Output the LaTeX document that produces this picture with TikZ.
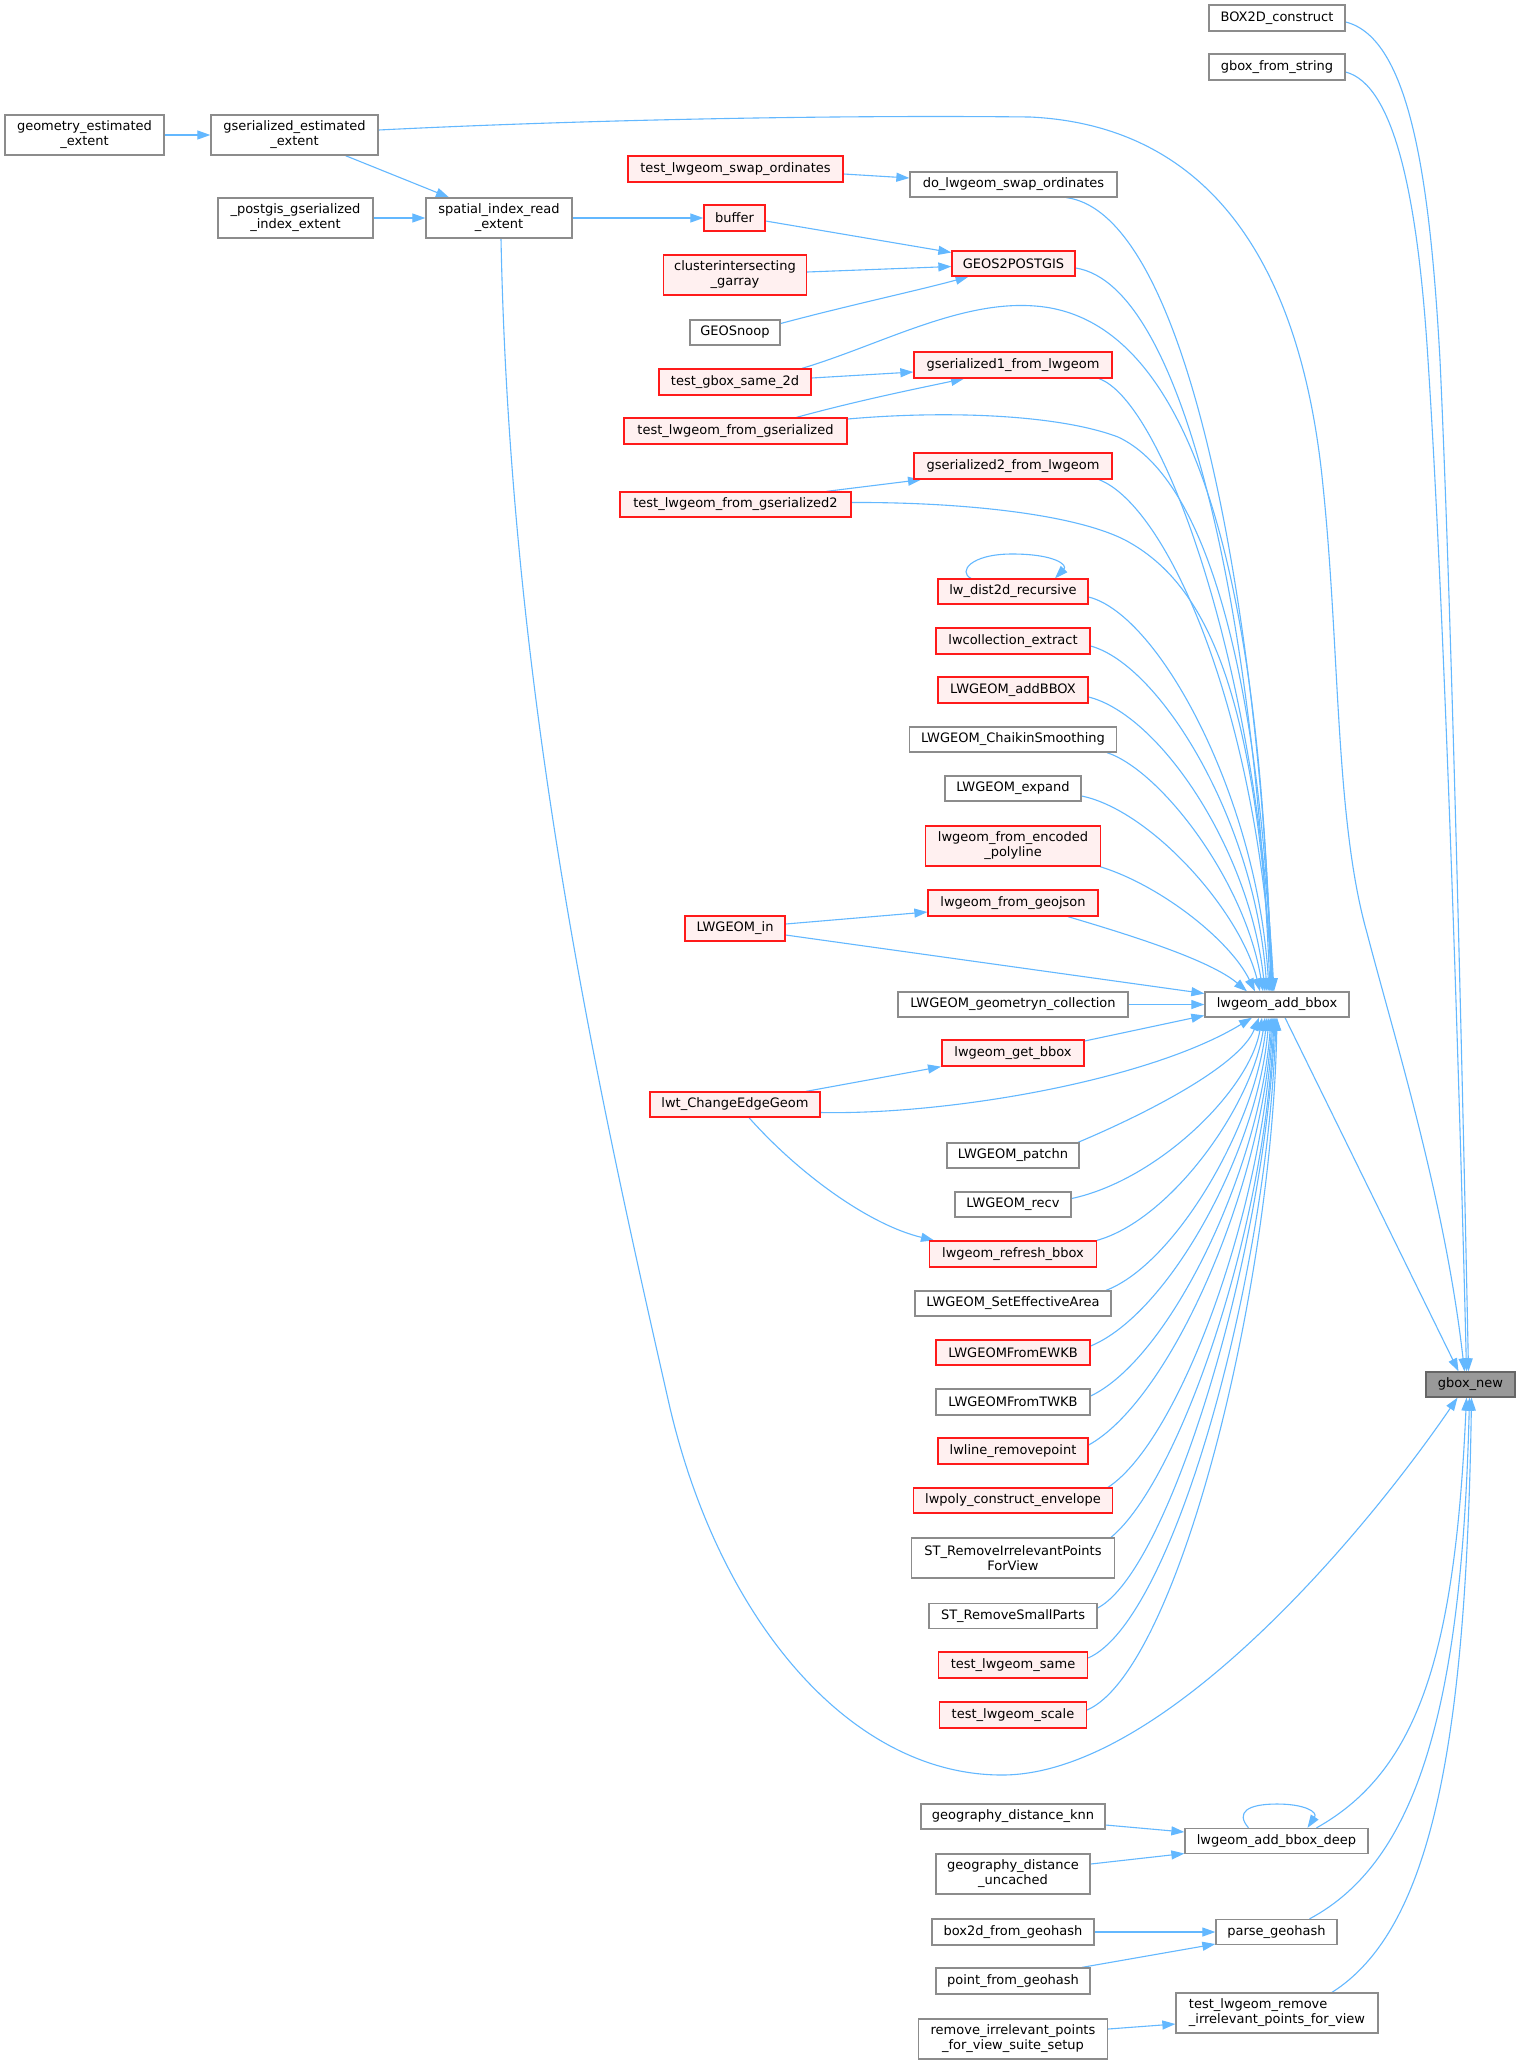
\documentclass[tikz,border=0pt]{standalone}
\usepackage{fontspec}
\setmainfont{DejaVu Sans}
\usetikzlibrary{arrows.meta,backgrounds}
\definecolor{edgec}{HTML}{63B8FF}
\definecolor{nodeb}{HTML}{8C8C8C}
\definecolor{nodedark}{HTML}{666666}
\definecolor{nodered}{HTML}{FF1A1A}
\definecolor{nodefill}{HTML}{FFF0F0}
\definecolor{gboxfill}{HTML}{999999}
\tikzset{
  nb/.style={draw=nodeb, fill=white, line width=1.3pt, inner sep=0pt, align=center, font=\fontsize{13}{15}\selectfont},
  nr/.style={nb, draw=nodered, fill=nodefill},
  ngb/.style={nb, draw=nodedark, fill=gboxfill},
  ed/.style={draw=edgec, line width=1.1pt, -{Triangle[length=13pt,width=9pt]}},
}
\begin{document}
\begin{tikzpicture}[x=1pt,y=-1pt]
\useasboundingbox (0,0) rectangle (1520,2062);
% column 1-4
\node[nb, minimum width=159pt, minimum height=40pt] (geomest) at (84.5,135) {geometry\_estimated\\\_extent};
\node[nb, minimum width=167pt, minimum height=40pt] (gse) at (294.5,135) {gserialized\_estimated\\\_extent};
\node[nb, minimum width=155pt, minimum height=40pt] (pgie) at (295.5,218) {\_postgis\_gserialized\\\_index\_extent};
\node[nb, minimum width=146pt, minimum height=40pt] (sire) at (499,218) {spatial\_index\_read\\\_extent};
\node[nr, minimum width=215pt, minimum height=26pt] (tlso) at (735.5,169) {test\_lwgeom\_swap\_ordinates};
\node[nr, minimum width=61pt, minimum height=26pt] (buf) at (734.5,218) {buffer};
\node[nr, minimum width=143pt, minimum height=40pt] (cig) at (735,275) {clusterintersecting\\\_garray};
\node[nb, minimum width=90pt, minimum height=25pt] (gsn) at (735,332.5) {GEOSnoop};
\node[nr, minimum width=152pt, minimum height=26pt] (tgs) at (735,382) {test\_gbox\_same\_2d};
\node[nr, minimum width=223pt, minimum height=26pt] (tlfg) at (735.5,431) {test\_lwgeom\_from\_gserialized};
\node[nr, minimum width=231pt, minimum height=25pt] (tlfgb) at (735.5,504.5) {test\_lwgeom\_from\_gserialized2};
\node[nr, minimum width=100pt, minimum height=25pt] (lwin) at (735,928.5) {LWGEOM\_in};
\node[nr, minimum width=170pt, minimum height=25pt] (lced) at (735,1104.5) {lwt\_ChangeEdgeGeom};
% column 5
\node[nb, minimum width=207pt, minimum height=25pt] (dlso) at (1013.5,184.5) {do\_lwgeom\_swap\_ordinates};
\node[nr, minimum width=123pt, minimum height=25pt] (gtp) at (1013.5,263.5) {GEOS2POSTGIS};
\node[nr, minimum width=198pt, minimum height=26pt] (gsa) at (1013,365) {gserialized1\_from\_lwgeom};
\node[nr, minimum width=198pt, minimum height=26pt] (gsb) at (1013,466) {gserialized2\_from\_lwgeom};
\node[nr, minimum width=150pt, minimum height=25pt] (ldr) at (1013,591.5) {lw\_dist2d\_recursive};
\node[nr, minimum width=154pt, minimum height=26pt] (lce) at (1013,641) {lwcollection\_extract};
\node[nr, minimum width=150pt, minimum height=26pt] (labb) at (1013,690) {LWGEOM\_addBBOX};
\node[nb, minimum width=207pt, minimum height=25pt] (lcs) at (1013,739.5) {LWGEOM\_ChaikinSmoothing};
\node[nb, minimum width=136pt, minimum height=25pt] (lex) at (1013,788.5) {LWGEOM\_expand};
\node[nr, minimum width=175pt, minimum height=40pt] (lfep) at (1013,846) {lwgeom\_from\_encoded\\\_polyline};
\node[nr, minimum width=170pt, minimum height=26pt] (lfgj) at (1013,903) {lwgeom\_from\_geojson};
\node[nb, minimum width=230pt, minimum height=25pt] (lgc) at (1013,1004.5) {LWGEOM\_geometryn\_collection};
\node[nr, minimum width=142pt, minimum height=26pt] (lgb) at (1013,1053) {lwgeom\_get\_bbox};
\node[nb, minimum width=132pt, minimum height=25pt] (lpn) at (1013,1155.5) {LWGEOM\_patchn};
\node[nb, minimum width=116pt, minimum height=25pt] (lrv) at (1013,1204.5) {LWGEOM\_recv};
\node[nr, minimum width=167pt, minimum height=26pt] (lrb) at (1013,1254) {lwgeom\_refresh\_bbox};
\node[nb, minimum width=196pt, minimum height=25pt] (lsea) at (1013,1303.5) {LWGEOM\_SetEffectiveArea};
\node[nr, minimum width=154pt, minimum height=25pt] (lfe) at (1013,1352.5) {LWGEOMFromEWKB};
\node[nb, minimum width=154pt, minimum height=26pt] (lft) at (1013,1402) {LWGEOMFromTWKB};
\node[nr, minimum width=150pt, minimum height=26pt] (lrp) at (1013,1451) {lwline\_removepoint};
\node[nr, minimum width=199pt, minimum height=25pt] (lpce) at (1013,1500.5) {lwpoly\_construct\_envelope};
\node[nb, minimum width=203pt, minimum height=40pt] (strip) at (1013,1558) {ST\_RemoveIrrelevantPoints\\ForView};
\node[nb, minimum width=168pt, minimum height=25pt] (stsp) at (1013,1616) {ST\_RemoveSmallParts};
\node[nr, minimum width=149pt, minimum height=26pt] (tls) at (1013,1665) {test\_lwgeom\_same};
\node[nr, minimum width=147pt, minimum height=26pt] (tlsc) at (1013,1715) {test\_lwgeom\_scale};
\node[nb, minimum width=184pt, minimum height=25pt] (gdk) at (1013,1816.5) {geography\_distance\_knn};
\node[nb, minimum width=154pt, minimum height=40pt] (gdu) at (1013,1874) {geography\_distance\\\_uncached};
\node[nb, minimum width=162pt, minimum height=26pt] (bfg) at (1013,1932) {box2d\_from\_geohash};
\node[nb, minimum width=154pt, minimum height=26pt] (pfg) at (1013,1981) {point\_from\_geohash};
\node[nb, minimum width=189pt, minimum height=40pt] (rips) at (1013,2039) {remove\_irrelevant\_points\\\_for\_view\_suite\_setup};
% column 6-7
\node[nb, minimum width=136pt, minimum height=26pt] (bc) at (1277,18) {BOX2D\_construct};
\node[nb, minimum width=136pt, minimum height=26pt] (gfs) at (1277,67) {gbox\_from\_string};
\node[nb, minimum width=144pt, minimum height=25pt] (lab) at (1277,1004.5) {lwgeom\_add\_bbox};
\node[nb, minimum width=183pt, minimum height=25pt] (deep) at (1276.5,1841) {lwgeom\_add\_bbox\_deep};
\node[nb, minimum width=121pt, minimum height=25pt] (pgh) at (1276.5,1932) {parse\_geohash};
\node[nb, align=left, minimum width=202pt, minimum height=40pt] (tlri) at (1277,2013) {test\_lwgeom\_remove\\\_irrelevant\_points\_for\_view};
\node[ngb, minimum width=89pt, minimum height=25pt] (gbn) at (1470.5,1384.5) {gbox\_new};

\begin{scope}[on background layer]
\fill[white] (0,0) rectangle (1520,2062);
% into gbox_new (top)
\draw[ed] ([yshift=-4pt]bc.east) .. controls (1410,38) and (1430,180) .. (1440,360) .. controls (1452,620) and (1463,1100) .. ([xshift=-2pt]gbn.north);
\draw[ed] ([yshift=-5pt]gfs.east) .. controls (1395,85) and (1418,200) .. (1428,360) .. controls (1445,620) and (1460,1100) .. ([xshift=-4pt]gbn.north);
\draw[ed] ([yshift=5pt]gse.east) .. controls (600,119) and (850,115) .. (1030,117) .. controls (1200,125) and (1300,250) .. (1323,486) .. controls (1340,650) and (1335,820) .. (1367,933) .. controls (1395,1040) and (1445,1200) .. ([xshift=-6pt]gbn.north);
\draw[ed] ([xshift=8pt]lab.south) -- ([xshift=-12pt]gbn.north);
% left part
\draw[ed] (geomest.east) -- (gse.west);
\draw[ed] ([xshift=51pt]gse.south) -- ([xshift=-50pt]sire.north);
\draw[ed] (pgie.east) -- (sire.west);
\draw[ed] (sire.east) -- (buf.west);
\draw[ed] ([xshift=2pt]sire.south) .. controls (510,700) and (600,1100) .. (670,1408) .. controls (720,1620) and (850,1775) .. (1002,1775) .. controls (1160,1775) and (1360,1540) .. ([xshift=-13pt]gbn.south);
\draw[ed] ([yshift=-5pt]tlso.east) -- ([yshift=6.5pt]dlso.west);
\draw[ed] ([yshift=-3pt]buf.east) -- ([yshift=11pt]gtp.west);
\draw[ed] ([yshift=3pt]cig.east) -- ([yshift=-3pt]gtp.west);
\draw[ed] ([yshift=9pt]gsn.east) .. controls (850,305) and (920,290) .. ([xshift=-45pt]gtp.south);
\draw[ed] ([yshift=4pt]tgs.east) -- ([yshift=-7pt]gsa.west);
\draw[ed] ([xshift=61pt]tlfg.north) .. controls (860,400) and (920,388) .. ([xshift=-49pt]gsa.south);
\draw[ed] ([xshift=91pt]tlfgb.north) -- ([xshift=-92pt]gsb.south);
\draw[ed] ([yshift=4.5pt]lwin.east) -- ([yshift=-9pt]lfgj.west);
\draw[ed] ([xshift=71pt]lced.north) -- ([xshift=-72pt]lgb.south);
\draw[ed] ([xshift=14pt]lced.south) .. controls (800,1175) and (870,1225) .. ([xshift=-79pt]lrb.north);
% self loop
\draw[ed] ([xshift=-42pt]ldr.north) .. controls (958,572) and (970,554) .. (1012,554) .. controls (1055,554) and (1068,565) .. ([xshift=42pt]ldr.north);
% into lwgeom_add_bbox (top)
\draw[ed] ([xshift=53pt]dlso.south) .. controls (1195,215) and (1262,650) .. ([xshift=-5pt]lab.north);
\draw[ed] ([yshift=-4.5pt]gtp.east) .. controls (1185,285) and (1255,620) .. ([xshift=-7pt]lab.north);
\draw[ed] ([xshift=67pt]tgs.north) .. controls (880,345) and (960,300) .. (1035,306) .. controls (1200,318) and (1262,600) .. ([xshift=-6pt]lab.north);
\draw[ed] ([yshift=12pt]tlfg.east) .. controls (950,410) and (1060,415) .. (1118,437) .. controls (1200,475) and (1258,650) .. ([xshift=-4pt]lab.north);
\draw[ed] ([xshift=86pt]gsa.south) .. controls (1160,400) and (1255,650) .. ([xshift=-3pt]lab.north);
\draw[ed] ([yshift=2pt]tlfgb.east) .. controls (950,502) and (1070,512) .. (1125,540) .. controls (1210,585) and (1256,700) .. ([xshift=-5pt]lab.north);
\draw[ed] ([xshift=86pt]gsb.south) .. controls (1165,505) and (1255,700) .. ([xshift=-4pt]lab.north);
\draw[ed] ([yshift=-5.5pt]ldr.east) .. controls (1160,615) and (1258,800) .. ([xshift=-8pt]lab.north);
\draw[ed] ([yshift=-5pt]lce.east) .. controls (1160,665) and (1255,820) .. ([xshift=-10pt]lab.north);
\draw[ed] ([yshift=-7pt]labb.east) .. controls (1160,715) and (1250,850) .. ([xshift=-12pt]lab.north);
\draw[ed] ([xshift=94pt]lcs.south) .. controls (1160,770) and (1245,880) .. ([xshift=-14pt]lab.north);
\draw[ed] ([yshift=-7.5pt]lex.east) .. controls (1150,810) and (1240,910) .. ([xshift=-17pt]lab.north);
\draw[ed] ([xshift=87pt]lfep.south) .. controls (1160,885) and (1230,940) .. ([xshift=-22pt]lab.north);
\draw[ed] ([xshift=55pt]lfgj.south) .. controls (1130,935) and (1210,960) .. ([xshift=-30pt]lab.north);
% into lwgeom_add_bbox (left)
\draw[ed] ([yshift=-6.5pt]lwin.east) -- ([yshift=11pt]lab.west);
\draw[ed] (lgc.east) -- (lab.west);
\draw[ed] ([yshift=12pt]lgb.east) -- ([yshift=-11pt]lab.west);
% into lwgeom_add_bbox (bottom)
\draw[ed] ([yshift=-8pt]lced.east) .. controls (950,1115) and (1150,1080) .. ([xshift=-25pt]lab.south);
\draw[ed] ([xshift=65pt]lpn.north) .. controls (1150,1112) and (1240,1065) .. ([xshift=-18pt]lab.south);
\draw[ed] ([yshift=6pt]lrv.east) .. controls (1158,1180) and (1250,1090) .. ([xshift=-15pt]lab.south);
\draw[ed] ([xshift=84pt]lrb.north) .. controls (1170,1220) and (1252,1107) .. ([xshift=-12pt]lab.south);
\draw[ed] ([xshift=93pt]lsea.north) .. controls (1175,1264) and (1255,1127) .. ([xshift=-10pt]lab.south);
\draw[ed] ([yshift=6.5pt]lfe.east) .. controls (1170,1313) and (1258,1149) .. ([xshift=-8pt]lab.south);
\draw[ed] ([yshift=6pt]lft.east) .. controls (1170,1358) and (1260,1170) .. ([xshift=-6pt]lab.south);
\draw[ed] ([yshift=6pt]lrp.east) .. controls (1170,1400) and (1262,1190) .. ([xshift=-5pt]lab.south);
\draw[ed] ([xshift=95pt]lpce.north) .. controls (1180,1440) and (1263,1210) .. ([xshift=-4pt]lab.south);
\draw[ed] ([xshift=98pt]strip.north) .. controls (1180,1480) and (1265,1230) .. ([xshift=-3pt]lab.south);
\draw[ed] ([yshift=8pt]stsp.east) .. controls (1170,1570) and (1265,1250) .. ([xshift=-2pt]lab.south);
\draw[ed] ([yshift=7pt]tls.east) .. controls (1175,1620) and (1268,1270) .. ([xshift=-1pt]lab.south);
\draw[ed] ([yshift=5pt]tlsc.east) .. controls (1178,1670) and (1272,1290) .. (lab.south);
% lower right
\draw[ed] ([xshift=-28pt]deep.north) .. controls (1235,1812) and (1248,1804) .. (1277,1804) .. controls (1305,1804) and (1318,1812) .. ([xshift=31pt]deep.north);
\draw[ed] ([xshift=40pt]deep.north) .. controls (1420,1770) and (1455,1650) .. ([xshift=-4pt]gbn.south);
\draw[ed] ([yshift=-8.5pt]gdk.east) -- ([yshift=9pt]deep.west);
\draw[ed] ([yshift=10pt]gdu.east) -- ([yshift=-12.5pt]deep.west);
\draw[ed] ([xshift=33pt]pgh.north) .. controls (1420,1860) and (1462,1700) .. ([xshift=-1pt]gbn.south);
\draw[ed] (bfg.east) -- (pgh.west);
\draw[ed] ([xshift=69pt]pfg.north) -- ([yshift=-12pt]pgh.west);
\draw[ed] ([xshift=55pt]tlri.north) .. controls (1430,1930) and (1466,1750) .. ([xshift=1pt]gbn.south);
\draw[ed] ([yshift=10pt]rips.east) -- ([yshift=-11pt]tlri.west);
\end{scope}
\end{tikzpicture}
\end{document}
